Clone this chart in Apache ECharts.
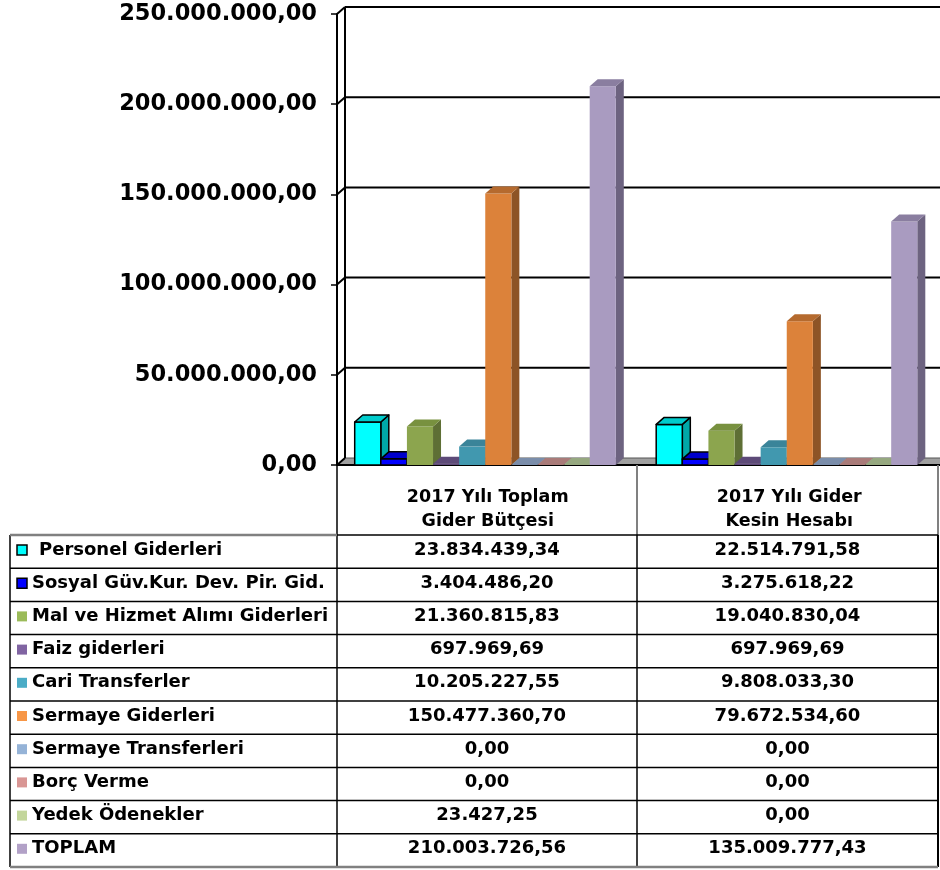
<!DOCTYPE html>
<html>
<head>
<meta charset="utf-8">
<script src="https://cdn.jsdelivr.net/npm/echarts@6/dist/echarts.min.js"></script>
<style>html,body{margin:0;padding:0;background:#fff;}#c{width:940px;height:870px;}</style>
</head>
<body>
<div id="c"></div>
<script>
// ---- data ----
const categories = ['2017 Yılı Toplam\nGider Bütçesi', '2017 Yılı Gider\nKesin Hesabı'];
const seriesNames = ['Personel Giderleri', 'Sosyal Güv.Kur. Dev. Pir. Gid.', 'Mal ve Hizmet Alımı Giderleri',
  'Faiz giderleri', 'Cari Transferler', 'Sermaye Giderleri', 'Sermaye Transferleri', 'Borç Verme',
  'Yedek Ödenekler', 'TOPLAM'];
const budget = [23834439.34, 3404486.20, 21360815.83, 697969.69, 10205227.55, 150477360.70, 0, 0, 23427.25, 210003726.56];
const actual = [22514791.58, 3275618.22, 19040830.04, 697969.69, 9808033.30, 79672534.60, 0, 0, 0, 135009777.43];
const yTicks = [0, 50000000, 100000000, 150000000, 200000000, 250000000];

// ---- styles ----
const frontCol = ['#00FFFF', '#0000FF', '#8CA54E', '#604A7B', '#4198AF', '#DC823A', '#95B3D7', '#D99694', '#C3D69B', '#A99BC0'];
const sideCol  = ['#00A8A8', '#0000A8', '#5E6F35', '#45355A', '#2D6B7B', '#8D5426', '#6A7F99', '#9B6B69', '#8A9A6E', '#6D6380'];
const topCol   = ['#00CCCC', '#0000CC', '#78913F', '#5D4A78', '#3A8499', '#B56A2E', '#7A8DAA', '#A97B79', '#96A880', '#8A7EA0'];
const legendCol = ['#00FFFF', '#0000FF', '#9BBB59', '#8064A2', '#4BACC6', '#F79646', '#95B3D7', '#D99694', '#C3D69B', '#B2A1C7'];
const outlined = [true, true, false, false, false, false, false, false, false, false];
const DX = 8, DY = 7;

function fmt(v) {
  const parts = v.toFixed(2).split('.');
  return parts[0].replace(/\B(?=(\d{3})+(?!\d))/g, '.') + ',' + parts[1];
}

const chart = echarts.init(document.getElementById('c'));

function barRender(i) {
  return function (params, api) {
    const cat = api.value(0), val = api.value(1);
    const base = api.coord([cat, 0]);
    const top = api.coord([cat, val]);
    const band = api.size([1, 0])[0];
    const bw = band * 0.0866;
    const x = base[0] - 5 * bw - 2.5 + i * bw;
    const y0 = base[1], y1 = top[1];
    const st = outlined[i] ? { stroke: '#000', lineWidth: 1.5, lineJoin: 'round' } : { stroke: null };
    const children = [];
    if (y0 - y1 > 0.5) {
      children.push({ type: 'polygon', shape: { points: [[x + bw, y1], [x + bw + DX, y1 - DY], [x + bw + DX, y0 - DY], [x + bw, y0]] },
        style: Object.assign({ fill: sideCol[i] }, st) });
      children.push({ type: 'rect', shape: { x: x, y: y1, width: bw, height: y0 - y1 },
        style: Object.assign({ fill: frontCol[i] }, st) });
    }
    children.push({ type: 'polygon', shape: { points: [[x, y1], [x + DX, y1 - DY], [x + bw + DX, y1 - DY], [x + bw, y1]] },
      style: Object.assign({ fill: topCol[i] }, st) });
    return { type: 'group', children: children };
  };
}

function wallRender(params, api) {
  const cs = params.coordSys;
  const v = api.value(0);
  const y = api.coord([0, v])[1];
  const x0 = cs.x, x1 = cs.x + cs.width;
  const children = [];
  if (v === 0) {
    children.push({ type: 'polygon', shape: { points: [[x0, y], [x0 + DX, y - DY], [x1 + DX, y - DY], [x1, y]] },
      style: { fill: '#A0A0A0', stroke: '#555', lineWidth: 1 } });
    children.push({ type: 'line', shape: { x1: x0, y1: y, x2: x1, y2: y }, style: { stroke: '#000', lineWidth: 2 } });
    const yt = api.coord([0, yTicks[yTicks.length - 1]])[1];
    children.push({ type: 'line', shape: { x1: x0 + DX, y1: yt - DY, x2: x0 + DX, y2: y - DY }, style: { stroke: '#000', lineWidth: 2 } });
  } else {
    children.push({ type: 'line', shape: { x1: x0 + DX, y1: y - DY, x2: x1 + DX, y2: y - DY }, style: { stroke: '#000', lineWidth: 2 } });
  }
  children.push({ type: 'line', shape: { x1: x0, y1: y, x2: x0 + DX, y2: y - DY }, style: { stroke: '#000', lineWidth: 2 } });
  return { type: 'group', children: children };
}

const series = [{
  type: 'custom', name: 'wall', renderItem: wallRender, clip: false, silent: true, z: 1,
  data: yTicks.map(v => [v]), encode: { x: -1, y: 0 }
}];
seriesNames.forEach((n, i) => {
  series.push({
    type: 'custom', name: n, renderItem: barRender(i), clip: false, z: 2 + i,
    data: [[0, budget[i]], [1, actual[i]]], encode: { x: 0, y: 1 }
  });
});

// ---- table ----
const TL = 10, TC1 = 337, TC2 = 637, TR = 938, TTOP = 535, ROWH = 33.2;
const FONT = 'DejaVu Sans';
const graphics = [];
function line(x1, y1, x2, y2, color, w) {
  graphics.push({ type: 'line', shape: { x1: x1, y1: y1, x2: x2, y2: y2 }, style: { stroke: color, lineWidth: w }, z: 50 });
}
const nRows = seriesNames.length;
const TBOT = TTOP + ROWH * nRows;
line(TC1, 465, TC1, TBOT, '#000', 1.5);
line(TC2, 465, TC2, TTOP, '#808080', 2);
line(TR, 465, TR, TTOP, '#808080', 2);
line(TC2, TTOP, TC2, TBOT, '#000', 1.5);
line(TR, TTOP, TR, TBOT, '#000', 2);
line(TL, TTOP, TL, TBOT, '#000', 1.5);
line(TL, TTOP, TC1, TTOP, '#808080', 2.5);
line(TC1, TTOP, TR, TTOP, '#000', 1.5);
for (let r = 1; r < nRows; r++) line(TL, TTOP + ROWH * r, TR, TTOP + ROWH * r, '#000', 1.5);
line(TL, TBOT, TR, TBOT, '#808080', 2.5);
const TFONT = 'bold 18px "' + FONT + '"';
seriesNames.forEach((n, r) => {
  const cy = TTOP + ROWH * r + 15;
  graphics.push({ type: 'rect', shape: { x: 17, y: cy - 5, width: 10, height: 10 },
    style: { fill: legendCol[r], stroke: outlined[r] ? '#000' : null, lineWidth: 1.5 }, z: 51 });
  graphics.push({ type: 'text', x: r === 0 ? 39 : 32, y: cy, z: 51,
    style: { text: n, font: TFONT, fill: '#000', textVerticalAlign: 'middle', textAlign: 'left' } });
  graphics.push({ type: 'text', x: (TC1 + TC2) / 2, y: cy, z: 51,
    style: { text: fmt(budget[r]), font: TFONT, fill: '#000', textVerticalAlign: 'middle', textAlign: 'center' } });
  graphics.push({ type: 'text', x: (TC2 + TR) / 2, y: cy, z: 51,
    style: { text: fmt(actual[r]), font: TFONT, fill: '#000', textVerticalAlign: 'middle', textAlign: 'center' } });
});

chart.setOption({
  animation: false,
  backgroundColor: '#fff',
  grid: { left: 337, top: 14, width: 603, height: 451, containLabel: false },
  xAxis: {
    type: 'category', data: categories,
    axisLine: { show: false }, axisTick: { show: false },
    axisLabel: { interval: 0, margin: 20, fontFamily: FONT, fontWeight: 'bold', fontSize: 17.5, lineHeight: 24, color: '#000' },
    splitLine: { show: false }
  },
  yAxis: {
    type: 'value', min: 0, max: 250000000, interval: 50000000,
    axisLine: { show: true, lineStyle: { color: '#000', width: 2 } },
    axisTick: { show: true, length: 6, lineStyle: { color: '#000', width: 1.5 } },
    axisLabel: { margin: 20, fontFamily: FONT, fontWeight: 'bold', fontSize: 22.5, color: '#000', formatter: v => fmt(v) },
    splitLine: { show: false }
  },
  series: series,
  graphic: graphics
});
</script>
</body>
</html>
